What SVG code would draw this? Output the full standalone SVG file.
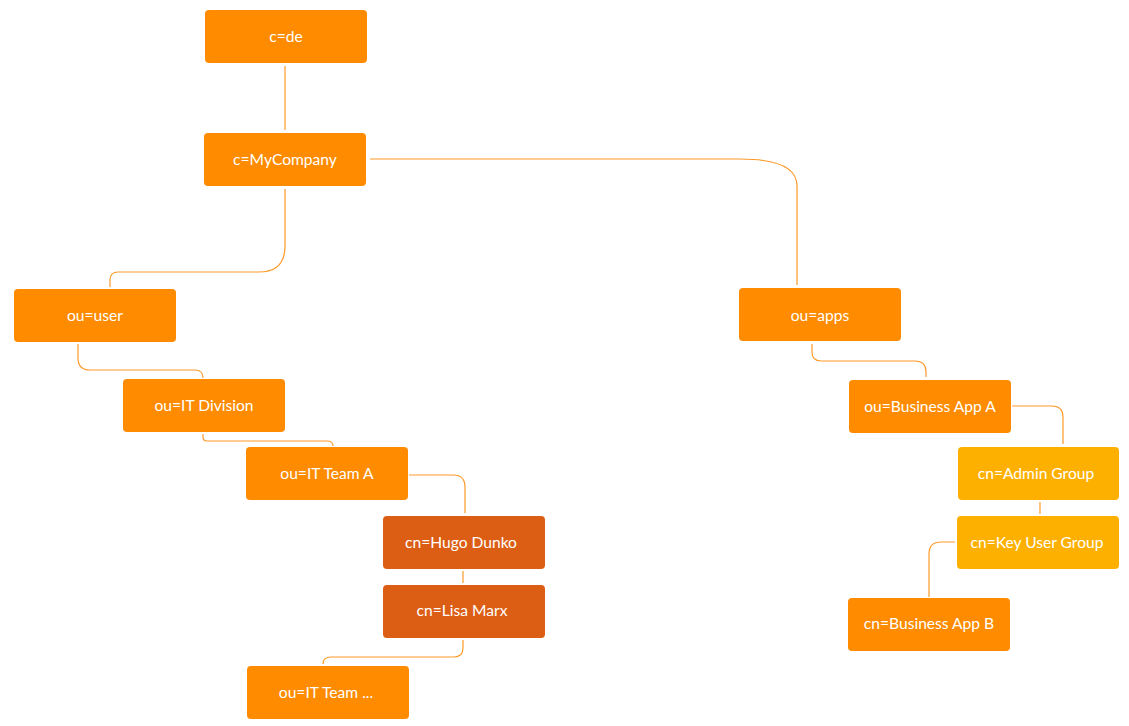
<svg xmlns="http://www.w3.org/2000/svg" width="1129" height="726" viewBox="0 0 1129 726">
<style>
.n rect{stroke:none}
.o rect{fill:#FE8B00}
.d rect{fill:#DC5D14}
.y rect{fill:#FEB001}
.n text{font-family:Lato,"Open Sans","Liberation Sans",sans-serif;font-size:15.6px;fill:#FFFFFF;text-anchor:middle}
#connectors path{fill:none;stroke:#FE9A2A;stroke-width:1.2}
</style>
<rect width="1129" height="726" fill="#FFFFFF"/>
<g id="connectors">
<path d="M285,66 V130"/>
<path d="M285,189 V246 Q285,272 259,272 H118 Q110,272 110,280 V287"/>
<path d="M370,159 H740 Q797,159 797,186 V285"/>
<path d="M78,344 V358 Q78,370 90,370 H195 Q203,370 203,378"/>
<path d="M203,434 V437 Q203,441 207,441 H327 Q333,441 333,446"/>
<path d="M409,475 H453 Q465,475 465,487 V513"/>
<path d="M463,571 V583"/>
<path d="M463,640 V648 Q463,657 454,657 H331 Q323,657 323,664"/>
<path d="M812,344 V352 Q812,361 821,361 H915 Q926,361 926,372 V377"/>
<path d="M1012,406 H1052 Q1063,406 1063,417 V444"/>
<path d="M1040,502 V514"/>
<path d="M955,542 H941 Q929,542 929,554 V597"/>
</g>
<g id="n-de" class="n o"><rect x="205" y="10" width="162" height="53" rx="4"/><text x="286" y="42">c=de</text></g>
<g id="n-mycompany" class="n o"><rect x="204" y="133" width="162" height="53" rx="4"/><text x="285" y="165">c=MyCompany</text></g>
<g id="n-user" class="n o"><rect x="14" y="289" width="162" height="53" rx="4"/><text x="95" y="321">ou=user</text></g>
<g id="n-itdivision" class="n o"><rect x="123" y="379" width="162" height="53" rx="4"/><text x="204" y="411">ou=IT Division</text></g>
<g id="n-itteama" class="n o"><rect x="246" y="447" width="162" height="53" rx="4"/><text x="327" y="479">ou=IT Team A</text></g>
<g id="n-hugo" class="n d"><rect x="383" y="516" width="162" height="53" rx="4"/><text x="461" y="548">cn=Hugo Dunko</text></g>
<g id="n-lisa" class="n d"><rect x="383" y="585" width="162" height="53" rx="4"/><text x="462" y="616">cn=Lisa Marx</text></g>
<g id="n-itteamx" class="n o"><rect x="247" y="666" width="162" height="53" rx="4"/><text x="326" y="698">ou=IT Team ...</text></g>
<g id="n-apps" class="n o"><rect x="739" y="288" width="162" height="53" rx="4"/><text x="820" y="321">ou=apps</text></g>
<g id="n-bizappa" class="n o"><rect x="849" y="380" width="162" height="53" rx="4"/><text x="930" y="412">ou=Business App A</text></g>
<g id="n-admin" class="n y"><rect x="958" y="447" width="161" height="53" rx="4"/><text x="1036" y="479">cn=Admin Group</text></g>
<g id="n-keyuser" class="n y"><rect x="957" y="516" width="162" height="53" rx="4"/><text x="1037" y="548">cn=Key User Group</text></g>
<g id="n-bizappb" class="n o"><rect x="848" y="598" width="162" height="53" rx="4"/><text x="929" y="629">cn=Business App B</text></g>
</svg>
